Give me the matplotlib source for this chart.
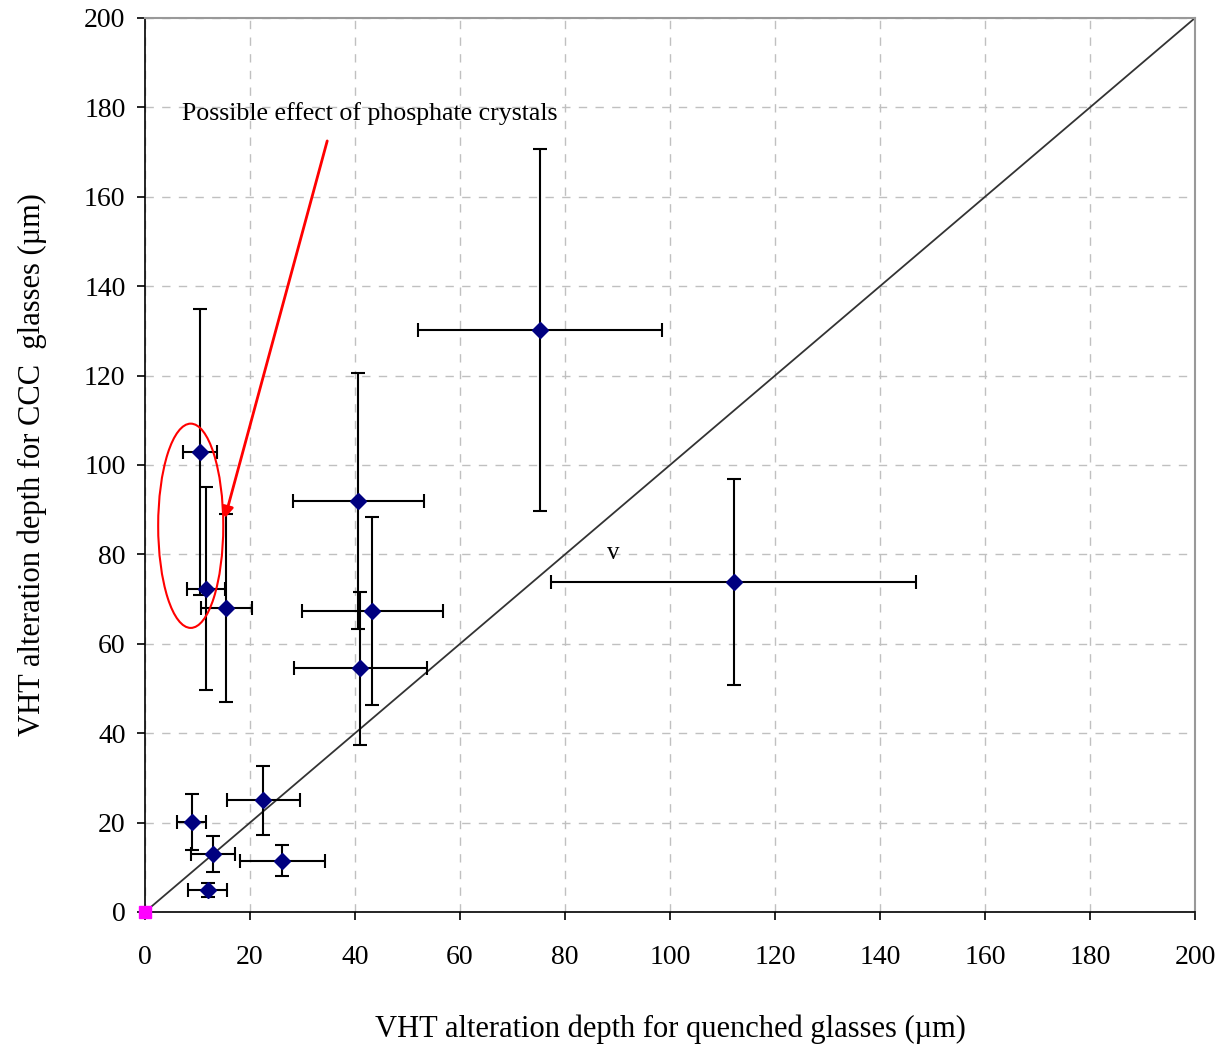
import matplotlib
matplotlib.use("Agg")
import matplotlib.pyplot as plt
from matplotlib.patches import Ellipse

plt.rcParams['font.family'] = ['Liberation Serif', 'DejaVu Serif']

# Data
x_quenched = [10.5, 11.6, 15.5, 40.6, 43.3, 41.0, 75.2, 112.1, 8.9, 22.5, 13.0, 26.1, 11.9]
y_ccc      = [103.0, 72.3, 68.0, 92.0, 67.3, 54.5, 130.3, 73.8, 20.1, 25.0, 13.0, 11.5, 4.9]
x_err      = [3.3, 3.7, 4.9, 12.5, 13.4, 12.7, 23.3, 34.7, 2.8, 6.95, 4.2, 8.1, 3.75]
y_err      = [32.0, 22.7, 21.1, 28.6, 21.0, 17.1, 40.5, 23.0, 6.2, 7.75, 4.0, 3.4, 1.55]

origin_x = [0]
origin_y = [0]

diag_x = [0, 200]
diag_y = [0, 200]

ticks = [0, 20, 40, 60, 80, 100, 120, 140, 160, 180, 200]

fig = plt.figure(figsize=(12.22, 10.52), dpi=100)
ax = fig.add_axes([0.1187, 0.1331, 0.8592, 0.8498])

ax.set_xlim(0, 200)
ax.set_ylim(0, 200)
ax.set_xticks(ticks)
ax.set_yticks(ticks)
ax.tick_params(axis='both', labelsize=20, direction='out', length=6, width=1.2)
ax.tick_params(axis='x', pad=18)
ax.tick_params(axis='y', pad=8)

ax.grid(True, linestyle=(0, (6, 6)), color='#c0c0c0', linewidth=1.0)
ax.set_axisbelow(True)

for s in ['left', 'bottom']:
    ax.spines[s].set_color('black')
    ax.spines[s].set_linewidth(1.2)
for s in ['top', 'right']:
    ax.spines[s].set_color('#999999')
    ax.spines[s].set_linewidth(1.5)

ax.plot(diag_x, diag_y, color='#333333', linewidth=1.3, zorder=2)

ax.errorbar(x_quenched, y_ccc, xerr=x_err, yerr=y_err, fmt='D',
            color='#000080', markersize=8, ecolor='black', elinewidth=1.5,
            capsize=5, capthick=1.5, zorder=3)

ax.plot(origin_x, origin_y, 's', color='#ff00ff', markersize=8, clip_on=False, zorder=5)

ell = Ellipse((8.7, 86.4), 12.4, 45.7, fill=False, edgecolor='red', linewidth=1.5, zorder=4)
ax.add_patch(ell)

ax.annotate('', xy=(15.2, 88.1), xytext=(34.7, 172.5),
            arrowprops=dict(arrowstyle='-|>', color='red', lw=2, mutation_scale=16,
                            shrinkA=0, shrinkB=0), zorder=4)

ax.text(7.0, 178.7, 'Possible effect of phosphate crystals', fontsize=18.6,
        ha='left', va='center')
ax.text(89.1, 80.3, 'v', fontsize=18, ha='center', va='center')

ax.set_xlabel('VHT alteration depth for quenched glasses (µm)', fontsize=22, labelpad=32)
ax.set_ylabel('VHT alteration depth for CCC  glasses (µm)', fontsize=22, labelpad=27)

fig.savefig('out.png', dpi=100)
